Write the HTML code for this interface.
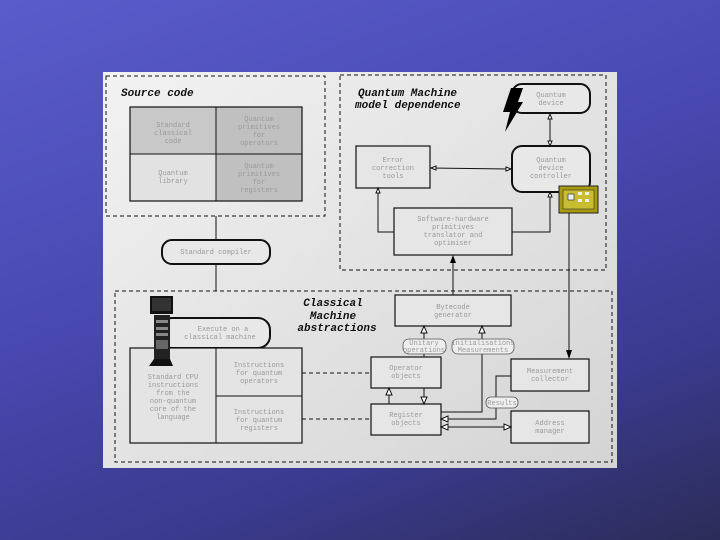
<!DOCTYPE html>
<html><head><meta charset="utf-8"><style>
html,body{margin:0;padding:0;width:720px;height:540px;overflow:hidden}
body{background:linear-gradient(160deg,#5a5ccc 0%,#4848b0 45%,#3a3a8e 75%,#2c2c58 100%)}
svg{position:absolute;left:0;top:0}
.t{font-family:"Liberation Mono",monospace;font-size:7px;fill:#9a9a9a;text-anchor:middle}
.h{font-family:"Liberation Mono",monospace;font-size:11px;font-style:italic;font-weight:bold;fill:#111}
.b{fill:#e6e6e6;stroke:#111;stroke-width:1.2}
.r{fill:#e8e8e8;stroke:#111;stroke-width:2}
.d{fill:none;stroke:#111;stroke-width:1;stroke-dasharray:4,3}
.l{fill:none;stroke:#111;stroke-width:1}
.a{fill:#fff;stroke:#111;stroke-width:1}
</style></head><body>
<svg width="720" height="540" viewBox="0 0 720 540">
<defs><linearGradient id="pg" x1="0" y1="0" x2="1" y2="1"><stop offset="0" stop-color="#f2f2f2"/><stop offset="1" stop-color="#d4d4d4"/></linearGradient></defs>
<rect x="103" y="72" width="514" height="396" fill="url(#pg)"/>
<!-- source code -->
<rect class="d" x="106" y="76" width="219" height="140"/>
<text class="h" x="121" y="96">Source code</text>
<rect x="130" y="107" width="86" height="47" fill="#c8c8c8"/>
<rect x="216" y="107" width="86" height="47" fill="#c0c0c0"/>
<rect x="130" y="154" width="86" height="47" fill="#e2e2e2"/>
<rect x="216" y="154" width="86" height="47" fill="#c0c0c0"/>
<rect x="130" y="107" width="172" height="94" fill="none" stroke="#111" stroke-width="1.2"/>
<line class="l" x1="216" y1="107" x2="216" y2="201"/><line class="l" x1="130" y1="154" x2="302" y2="154"/>
<text class="t" x="173" y="127">Standard</text><text class="t" x="173" y="135">classical</text><text class="t" x="173" y="143">code</text>
<text class="t" x="259" y="121">Quantum</text><text class="t" x="259" y="129">primitives</text><text class="t" x="259" y="137">for</text><text class="t" x="259" y="145">operators</text>
<text class="t" x="173" y="175" fill="#b0b0b0">Quantum</text><text class="t" x="173" y="183">library</text>
<text class="t" x="259" y="168">Quantum</text><text class="t" x="259" y="176">primitives</text><text class="t" x="259" y="184">for</text><text class="t" x="259" y="192">registers</text>
<line class="l" x1="216" y1="216" x2="216" y2="240"/><line class="l" x1="216" y1="264" x2="216" y2="291"/>
<rect class="r" x="162" y="240" width="108" height="24" rx="10"/>
<text class="t" x="216" y="254">Standard compiler</text>
<!-- quantum machine -->
<rect class="d" x="340" y="75" width="266" height="195"/>
<text class="h" x="358" y="96">Quantum Machine</text>
<text class="h" x="355" y="108">model dependence</text>
<rect class="r" x="512" y="84" width="78" height="29" rx="10"/>
<text class="t" x="551" y="97">Quantum</text><text class="t" x="551" y="105">device</text>
<polygon points="511,88 523,88 518,102 523,102 505,132 510,112 503,112" fill="#000"/>
<line class="l" x1="550" y1="118" x2="550" y2="142"/>
<polygon class="a" points="550,114 548,119 552,119"/><polygon class="a" points="550,146 548,141 552,141"/>
<rect class="r" x="512" y="146" width="78" height="46" rx="10"/>
<text class="t" x="551" y="162">Quantum</text><text class="t" x="551" y="170">device</text><text class="t" x="551" y="178">controller</text>
<rect class="b" x="356" y="146" width="74" height="42"/>
<text class="t" x="393" y="162">Error</text><text class="t" x="393" y="170">correction</text><text class="t" x="393" y="178">tools</text>
<line class="l" x1="430" y1="168" x2="512" y2="169"/>
<polygon class="a" points="431,168 436,166 436,170"/><polygon class="a" points="511,169 506,167 506,171"/>
<rect x="559" y="186" width="39" height="27" fill="#a89a10" stroke="#222" stroke-width="1"/>
<rect x="563" y="190" width="31" height="19" fill="#c8bc30" stroke="#333" stroke-width="0.6"/>
<rect x="568" y="194" width="6" height="6" fill="#eee" stroke="#222" stroke-width="0.6"/>
<rect x="578" y="192" width="4" height="3" fill="#eee"/><rect x="585" y="192" width="4" height="3" fill="#eee"/><rect x="578" y="199" width="4" height="3" fill="#eee"/><rect x="585" y="199" width="4" height="3" fill="#eee"/>
<rect x="394" y="208" width="118" height="47" class="b"/>
<text class="t" x="453" y="221">Software-hardware</text><text class="t" x="453" y="229">primitives</text><text class="t" x="453" y="237">translator and</text><text class="t" x="453" y="245">optimiser</text>
<polyline class="l" points="394,232 378,232 378,192"/><polygon class="a" points="378,188 376,193 380,193"/>
<polyline class="l" points="512,232 550,232 550,196"/><polygon class="a" points="550,192 548,197 552,197"/>
<line class="l" x1="453" y1="262" x2="453" y2="295"/><polygon points="453,255 450,263 456,263" fill="#000"/>
<line class="l" x1="569" y1="213" x2="569" y2="350"/><polygon points="569,359 566,350 572,350" fill="#000"/>
<!-- classical -->
<rect class="d" x="115" y="291" width="497" height="171"/>
<text class="h" x="333" y="306" text-anchor="middle">Classical</text>
<text class="h" x="333" y="319" text-anchor="middle">Machine</text>
<text class="h" x="337" y="331" text-anchor="middle">abstractions</text>
<rect class="r" x="160" y="318" width="110" height="30" rx="12"/>
<text class="t" x="223" y="331">Execute on a</text><text class="t" x="220" y="339">classical machine</text>
<rect x="130" y="348" width="172" height="95" fill="#e4e4e4" stroke="#111" stroke-width="1.2"/>
<line class="l" x1="216" y1="348" x2="216" y2="443"/><line class="l" x1="216" y1="396" x2="302" y2="396"/>
<text class="t" x="173" y="379">Standard CPU</text><text class="t" x="173" y="387">instructions</text><text class="t" x="173" y="395">from the</text><text class="t" x="173" y="403">non-quantum</text><text class="t" x="173" y="411">core of the</text><text class="t" x="173" y="419">language</text>
<text class="t" x="259" y="367">Instructions</text><text class="t" x="259" y="375">for quantum</text><text class="t" x="259" y="383">operators</text>
<text class="t" x="259" y="414">Instructions</text><text class="t" x="259" y="422">for quantum</text><text class="t" x="259" y="430">registers</text>
<!-- computer -->
<rect x="150" y="296" width="23" height="18" fill="#111"/><rect x="152" y="298" width="19" height="13" fill="#333"/>
<rect x="154" y="315" width="16" height="44" fill="#222"/>
<rect x="156" y="320" width="12" height="3" fill="#888"/><rect x="156" y="327" width="12" height="3" fill="#888"/><rect x="156" y="333" width="12" height="3" fill="#888"/><rect x="156" y="340" width="12" height="9" fill="#666"/>
<polygon points="154,359 170,359 173,366 149,366" fill="#111"/>
<line class="d" x1="302" y1="373" x2="371" y2="373" stroke-width="1.2"/>
<line class="d" x1="302" y1="419" x2="371" y2="419" stroke-width="1.2"/>
<rect class="b" x="395" y="295" width="116" height="31"/>
<text class="t" x="453" y="309">Bytecode</text><text class="t" x="453" y="317">generator</text>
<line class="l" x1="424" y1="331" x2="424" y2="357"/><polygon class="a" points="424,326 421,333 427,333"/>
<polyline class="l" points="441,412 482,412 482,331"/><polygon class="a" points="482,326 479,333 485,333"/>
<rect x="403" y="339" width="43" height="15" rx="6" fill="#eee" stroke="#555" stroke-width="0.8"/>
<text class="t" x="424" y="345" font-size="6">Unitary</text><text class="t" x="424" y="352" font-size="6">operations</text>
<rect x="452" y="339" width="62" height="15" rx="6" fill="#eee" stroke="#555" stroke-width="0.8"/>
<text class="t" x="483" y="345" font-size="6">Initialisations</text><text class="t" x="483" y="352" font-size="6">Measurements</text>
<rect class="b" x="371" y="357" width="70" height="31"/>
<text class="t" x="406" y="370">Operator</text><text class="t" x="406" y="378">objects</text>
<rect class="b" x="371" y="404" width="70" height="31"/>
<text class="t" x="406" y="417">Register</text><text class="t" x="406" y="425">objects</text>
<line class="l" x1="389" y1="394" x2="389" y2="404"/><polygon class="a" points="389,388 386,395 392,395"/>
<line class="l" x1="424" y1="388" x2="424" y2="398"/><polygon class="a" points="424,404 421,397 427,397"/>
<rect class="b" x="511" y="359" width="78" height="32"/>
<text class="t" x="550" y="373">Measurement</text><text class="t" x="550" y="381">collector</text>
<rect class="b" x="511" y="411" width="78" height="32"/>
<text class="t" x="550" y="425">Address</text><text class="t" x="550" y="433">manager</text>
<polyline class="l" points="511,376 496,376 496,419 448,419"/><polygon class="a" points="441,419 448,416 448,422"/>
<line class="l" x1="448" y1="427" x2="504" y2="427"/>
<polygon class="a" points="441,427 448,424 448,430"/><polygon class="a" points="511,427 504,424 504,430"/>
<rect x="486" y="397" width="32" height="11" rx="5" fill="#eee" stroke="#555" stroke-width="0.8"/>
<text class="t" x="502" y="405" font-size="6">Results</text>
</svg>
</body></html>
